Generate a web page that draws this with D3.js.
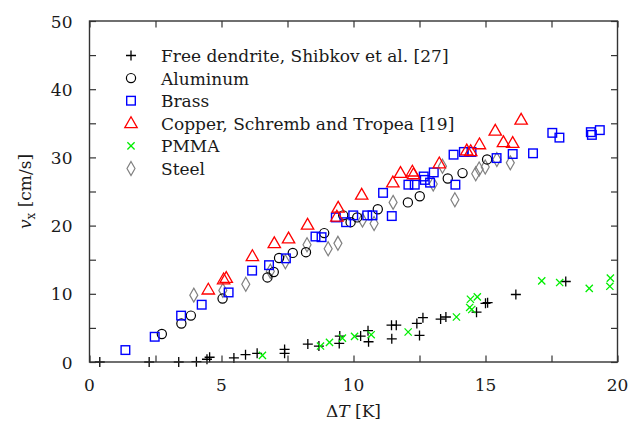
<!DOCTYPE html>
<html>
<head>
<meta charset="utf-8">
<script src="https://cdn.jsdelivr.net/npm/d3@7"></script>
<style>
  body { margin: 0; background: #fff; }
</style>
</head>
<body>
<div id="chart"></div>
<script>
// data: [deltaT (K), v_x (cm/s)]
const dendrite = [[0.39,0],[2.26,0],[3.38,0],[4.05,0.05],[4.45,0.4],[4.55,0.7],[5.47,0.6],[5.91,1.07],
  [6.35,1.27],[7.39,1.85],[7.39,1.27],[8.27,2.63],[8.69,2.34],[9.46,2.73],[9.48,3.8],[10.27,3.8],
  [10.55,4.6],[10.57,2.97],[11.44,5.4],[11.62,5.4],[11.45,3.4],[12.4,5.65],[12.63,6.5],[12.5,3.9],
  [13.3,6.3],[13.5,6.6],[14.66,7.3],[15.0,8.6],[15.08,8.7],[16.15,9.9],[18.04,11.8]];
const aluminum = [[2.74,4.1],[3.48,5.65],[3.84,6.8],[5.04,9.3],[6.74,12.4],[6.98,13.2],[7.18,15.25],
  [7.7,16.0],[8.2,16.1],[8.89,18.9],[9.61,21.5],[9.89,20.5],[10.14,21.2],[10.92,22.4],[12.06,23.4],
  [12.51,24.3],[13.57,26.9],[14.13,27.7],[15.06,29.7]];
const brass = [[1.36,1.75],[2.47,3.7],[3.47,6.8],[4.25,8.4],[5.27,10.2],[6.16,13.4],[6.8,14.2],
  [7.44,15.2],[8.56,18.4],[8.79,18.3],[9.33,21.2],[9.72,20.5],[9.99,21.5],[10.52,21.5],[10.72,21.5],
  [11.12,24.8],[11.45,21.4],[12.08,26.0],[12.32,26.0],[12.66,27.2],[12.7,26.7],[12.9,26.3],[13.04,27.8],
  [13.79,30.4],[13.86,26.0],[14.18,30.8],[14.47,30.8],[15.42,29.9],[16.03,30.5],[16.8,30.6],
  [17.53,33.6],[17.8,32.9],[18.99,33.7],[19.03,33.3],[19.33,34.0]];
const copper = [[4.5,10.6],[5.08,12.1],[5.18,12.3],[6.17,15.5],[7.0,17.4],[7.54,18.1],[8.26,20.1],
  [9.37,21.3],[9.42,22.6],[10.31,24.5],[11.49,26.3],[11.78,27.7],[12.23,27.9],[12.27,27.5],[13.25,29.1],
  [14.29,31.0],[14.44,30.9],[14.77,31.9],[15.37,33.9],[15.68,32.2],[16.03,32.1],[16.35,35.5]];
const pmma = [[6.55,0.97],[8.75,2.34],[9.09,2.88],[9.58,3.5],[10.04,3.75],[10.67,4.0],[12.07,4.4],
  [13.9,6.6],[14.43,9.2],[14.69,9.55],[14.4,8.0],[14.48,7.7],[17.13,11.9],[17.81,11.65],[18.93,10.8],
  [19.73,12.3],[19.71,11.1]];
const steel = [[3.95,9.8],[5.05,10.5],[5.92,11.4],[6.85,13.3],[7.42,14.7],[8.24,17.2],[9.04,16.6],
  [9.41,17.4],[10.34,20.8],[10.78,20.3],[11.5,23.4],[13.02,26.1],[13.37,28.7],[13.84,23.8],[14.63,27.6],
  [14.76,28.3],[14.99,28.6],[15.43,29.7],[15.94,29.2]];

const seriesNames = ["Free dendrite, Shibkov et al. [27]", "Aluminum", "Brass",
  "Copper, Schremb and Tropea [19]", "PMMA", "Steel"];
const seriesData = [dendrite, aluminum, brass, copper, pmma, steel];
const xTicks = [0, 5, 10, 15, 20];
const yTicks = [0, 10, 20, 30, 40, 50];

const width = 629, height = 434;
const margin = {top: 21, right: 11.5, bottom: 72, left: 89.5};
const fontFamily = "'DejaVu Serif', 'Liberation Serif', serif";
const fontSize = "17px";

const svg = d3.select("#chart").append("svg")
    .attr("width", width)
    .attr("height", height)
    .style("font-family", fontFamily);

const x = d3.scaleLinear().domain([0, 20]).range([margin.left, width - margin.right]);
const y = d3.scaleLinear().domain([0, 50]).range([height - margin.bottom, margin.top]);

// marker shapes, one per series
function plus(g, c) {
    g.append("path").attr("d", "M-5,0H5M0,-5V5").attr("stroke", c).attr("stroke-width", 1.3).attr("fill", "none");
}
function cross(g, c) {
    g.append("path").attr("d", "M-3.6,-3.6L3.6,3.6M-3.6,3.6L3.6,-3.6").attr("stroke", c).attr("stroke-width", 1.3).attr("fill", "none");
}
function circle(g, c) {
    g.append("circle").attr("r", 4.6).attr("stroke", c).attr("stroke-width", 1.2).attr("fill", "none");
}
function square(g, c) {
    g.append("rect").attr("x", -4.3).attr("y", -4.3).attr("width", 8.6).attr("height", 8.6)
        .attr("stroke", c).attr("stroke-width", 1.4).attr("fill", "none");
}
function triangle(g, c) {
    g.append("path").attr("d", "M0,-6.5L6.2,4.3H-6.2Z").attr("stroke", c).attr("stroke-width", 1.3).attr("fill", "none");
}
function diamond(g, c) {
    g.append("path").attr("d", "M0,-7L4,0L0,7L-4,0Z").attr("stroke", c).attr("stroke-width", 1.2).attr("fill", "none");
}

const markers = [
    {draw: plus, color: "#000"},
    {draw: circle, color: "#000"},
    {draw: square, color: "#0000ff"},
    {draw: triangle, color: "#ff0000"},
    {draw: cross, color: "#00ee00"},
    {draw: diamond, color: "#808080"}
];

// draw order: steel under the rest, as in the figure
const order = [5, 1, 2, 3, 0, 4];
order.forEach(function(i) {
    svg.append("g").selectAll("g")
        .data(seriesData[i])
        .enter()
        .append("g")
        .attr("transform", d => "translate(" + x(d[0]) + "," + y(d[1]) + ")")
        .each(function() { markers[i].draw(d3.select(this), markers[i].color); });
});

// frame + inward ticks on all four sides
const tickLen = 6.5;
const frame = svg.append("g");
const axisColor = "#333";

const axB = d3.axisBottom(x).tickValues(d3.range(0, 20.01, 2.5)).tickSize(-tickLen).tickFormat("");
const axT = d3.axisTop(x).tickValues(d3.range(0, 20.01, 2.5)).tickSize(-tickLen).tickFormat("");
const axL = d3.axisLeft(y).tickValues(d3.range(0, 50.01, 5)).tickSize(-tickLen).tickFormat("");
const axR = d3.axisRight(y).tickValues(d3.range(0, 50.01, 5)).tickSize(-tickLen).tickFormat("");

frame.append("g").attr("transform", "translate(0," + y(0) + ")").call(axB);
frame.append("g").attr("transform", "translate(0," + y(50) + ")").call(axT);
frame.append("g").attr("transform", "translate(" + x(0) + ",0)").call(axL);
frame.append("g").attr("transform", "translate(" + x(20) + ",0)").call(axR);
frame.selectAll(".domain").remove();
frame.selectAll(".tick line").attr("stroke", axisColor).attr("stroke-width", 1.2);

frame.append("rect")
    .attr("x", x(0)).attr("y", y(50))
    .attr("width", x(20) - x(0)).attr("height", y(0) - y(50))
    .attr("fill", "none").attr("stroke", axisColor).attr("stroke-width", 1.4);

// tick labels
svg.append("g").selectAll("text")
    .data(xTicks).enter().append("text")
    .attr("x", d => x(d)).attr("y", y(0) + 29)
    .attr("text-anchor", "middle")
    .attr("fill", "#1a1a1a")
    .style("font-size", fontSize)
    .text(d => d);

svg.append("g").selectAll("text")
    .data(yTicks).enter().append("text")
    .attr("x", x(0) - 17).attr("y", d => y(d) + 6.5)
    .attr("text-anchor", "end")
    .attr("fill", "#1a1a1a")
    .style("font-size", fontSize)
    .text(d => d);

// axis titles
const xt = svg.append("text")
    .attr("x", x(10)).attr("y", y(0) + 55)
    .attr("text-anchor", "middle")
    .attr("fill", "#1a1a1a")
    .style("font-size", fontSize);
xt.append("tspan").text("\u0394");
xt.append("tspan").style("font-style", "italic").text("T");
xt.append("tspan").text(" [K]");

const yt = svg.append("text")
    .attr("transform", "translate(31," + ((y(0) + y(50)) / 2) + ") rotate(-90)")
    .attr("text-anchor", "middle")
    .attr("fill", "#1a1a1a")
    .style("font-size", fontSize);
yt.append("tspan").style("font-style", "italic").text("v");
yt.append("tspan").attr("dy", 4).style("font-size", "12px").text("x");
yt.append("tspan").attr("dy", -4).text(" [cm/s]");

// legend
const legend = svg.append("g");
seriesNames.forEach(function(name, i) {
    const ly = 55.5 + i * 22.6;
    const m = legend.append("g").attr("transform", "translate(131," + ly + ")");
    markers[i].draw(m, markers[i].color);
    legend.append("text")
        .attr("x", 161).attr("y", ly + 6.5)
        .attr("fill", "#1a1a1a")
        .style("font-size", fontSize)
        .text(name);
});
</script>
</body>
</html>
